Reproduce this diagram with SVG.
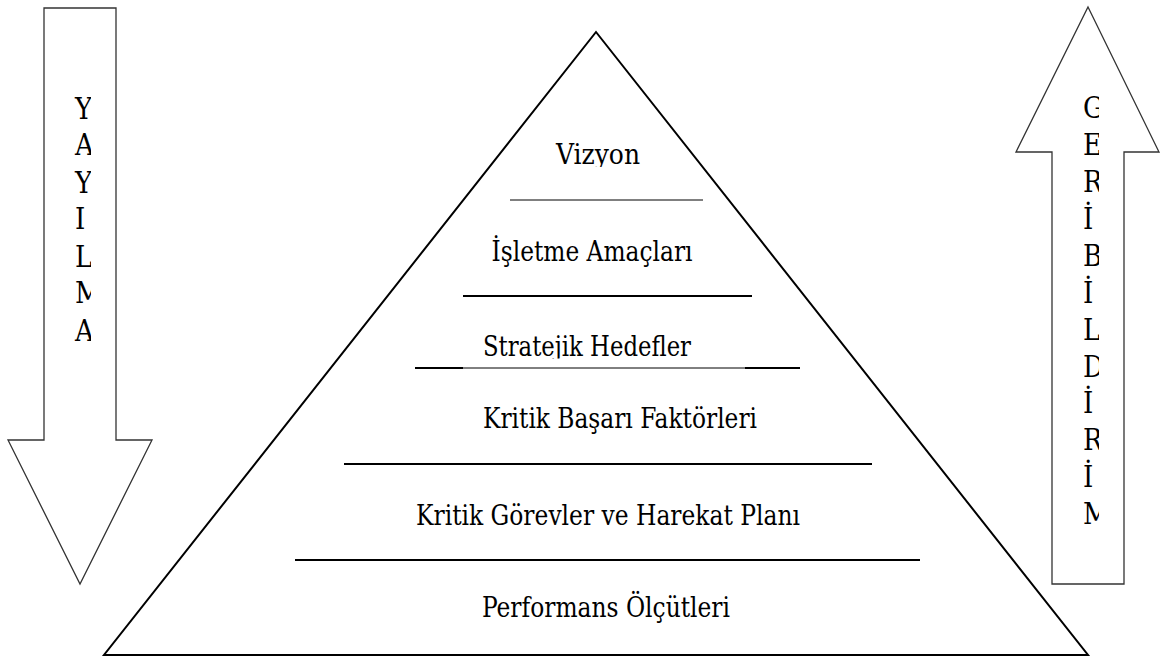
<svg xmlns="http://www.w3.org/2000/svg" width="1165" height="662" viewBox="0 0 1165 662">
  <style>
    text { font-family: "DejaVu Serif", "Liberation Serif", serif; font-stretch: condensed; fill: #000; }
    .lbl { font-size: 27px; text-anchor: middle; }
    .ltr { font-size: 29px; }
    .tri { fill: #fff; stroke: #000; stroke-width: 2; stroke-linejoin: miter; }
    .arrow { fill: #fff; stroke: #333; stroke-width: 1.3; }
    .sep { stroke: #000; stroke-width: 2; }
    .sep-thin { stroke: #000; stroke-width: 1; }
  </style>
  <defs>
    <clipPath id="clipLeft"><rect x="40" y="0" width="51" height="600"/></clipPath>
    <clipPath id="clipRight"><rect x="1050" y="0" width="49" height="600"/></clipPath>
    <clipPath id="clipVizyon"><rect x="400" y="100" width="400" height="67"/></clipPath>
    <clipPath id="clipStrat"><rect x="400" y="300" width="400" height="58.5"/></clipPath>
  </defs>
  <rect width="1165" height="662" fill="#fff"/>

  <!-- downward arrow: YAYILMA -->
  <g id="arrow-down">
    <polygon class="arrow" points="44,8 116,8 116,440 152,440 80,584 8,440 44,440"/>
    <g clip-path="url(#clipLeft)">
      <text class="ltr" x="75" y="119">Y</text>
      <text class="ltr" x="75" y="155">A</text>
      <text class="ltr" x="75" y="193">Y</text>
      <text class="ltr" x="75" y="229">I</text>
      <text class="ltr" x="75" y="267">L</text>
      <text class="ltr" x="75" y="303">M</text>
      <text class="ltr" x="75" y="341">A</text>
    </g>
  </g>

  <!-- upward arrow: GERİBİLDİRİM -->
  <g id="arrow-up">
    <polygon class="arrow" points="1088,7 1159,152 1124,152 1124,584 1052,584 1052,152 1016,152"/>
    <g clip-path="url(#clipRight)">
      <text class="ltr" x="1083" y="118">G</text>
      <text class="ltr" x="1083" y="155">E</text>
      <text class="ltr" x="1083" y="192">R</text>
      <text class="ltr" x="1083" y="229">İ</text>
      <text class="ltr" x="1083" y="266">B</text>
      <text class="ltr" x="1083" y="303">İ</text>
      <text class="ltr" x="1083" y="340">L</text>
      <text class="ltr" x="1083" y="377">D</text>
      <text class="ltr" x="1083" y="413">İ</text>
      <text class="ltr" x="1083" y="450">R</text>
      <text class="ltr" x="1083" y="487">İ</text>
      <text class="ltr" x="1083" y="524">M</text>
    </g>
  </g>

  <!-- pyramid outline -->
  <g id="pyramid">
    <polygon class="tri" points="596,32 1088,655 104,655"/>
  </g>

  <!-- level separators -->
  <g id="separators">
    <line class="sep-thin" x1="510" y1="200" x2="703" y2="200"/>
    <line class="sep" x1="463" y1="296" x2="752" y2="296"/>
    <line class="sep" x1="415" y1="368" x2="463" y2="368"/>
    <line class="sep-thin" x1="463" y1="368" x2="745" y2="368"/>
    <line class="sep" x1="745" y1="368" x2="800" y2="368"/>
    <line class="sep" x1="344" y1="464" x2="872" y2="464"/>
    <line class="sep" x1="295" y1="560" x2="920" y2="560"/>
  </g>

  <g id="level-vizyon"><text class="lbl" x="598" y="164" textLength="84" lengthAdjust="spacingAndGlyphs" clip-path="url(#clipVizyon)">Vizyon</text></g>
  <g id="level-amaclar"><text class="lbl" x="592" y="261" textLength="201" lengthAdjust="spacingAndGlyphs">İşletme Amaçları</text></g>
  <g id="level-hedefler"><text class="lbl" x="587" y="356" textLength="208" lengthAdjust="spacingAndGlyphs" clip-path="url(#clipStrat)">Stratejik Hedefler</text></g>
  <g id="level-faktorler"><text class="lbl" x="620" y="428" textLength="274" lengthAdjust="spacingAndGlyphs">Kritik Başarı Faktörleri</text></g>
  <g id="level-gorevler"><text class="lbl" x="608" y="525" textLength="384" lengthAdjust="spacingAndGlyphs">Kritik Görevler ve Harekat Planı</text></g>
  <g id="level-olcutler"><text class="lbl" x="606" y="617" textLength="248" lengthAdjust="spacingAndGlyphs">Performans Ölçütleri</text></g>
</svg>
